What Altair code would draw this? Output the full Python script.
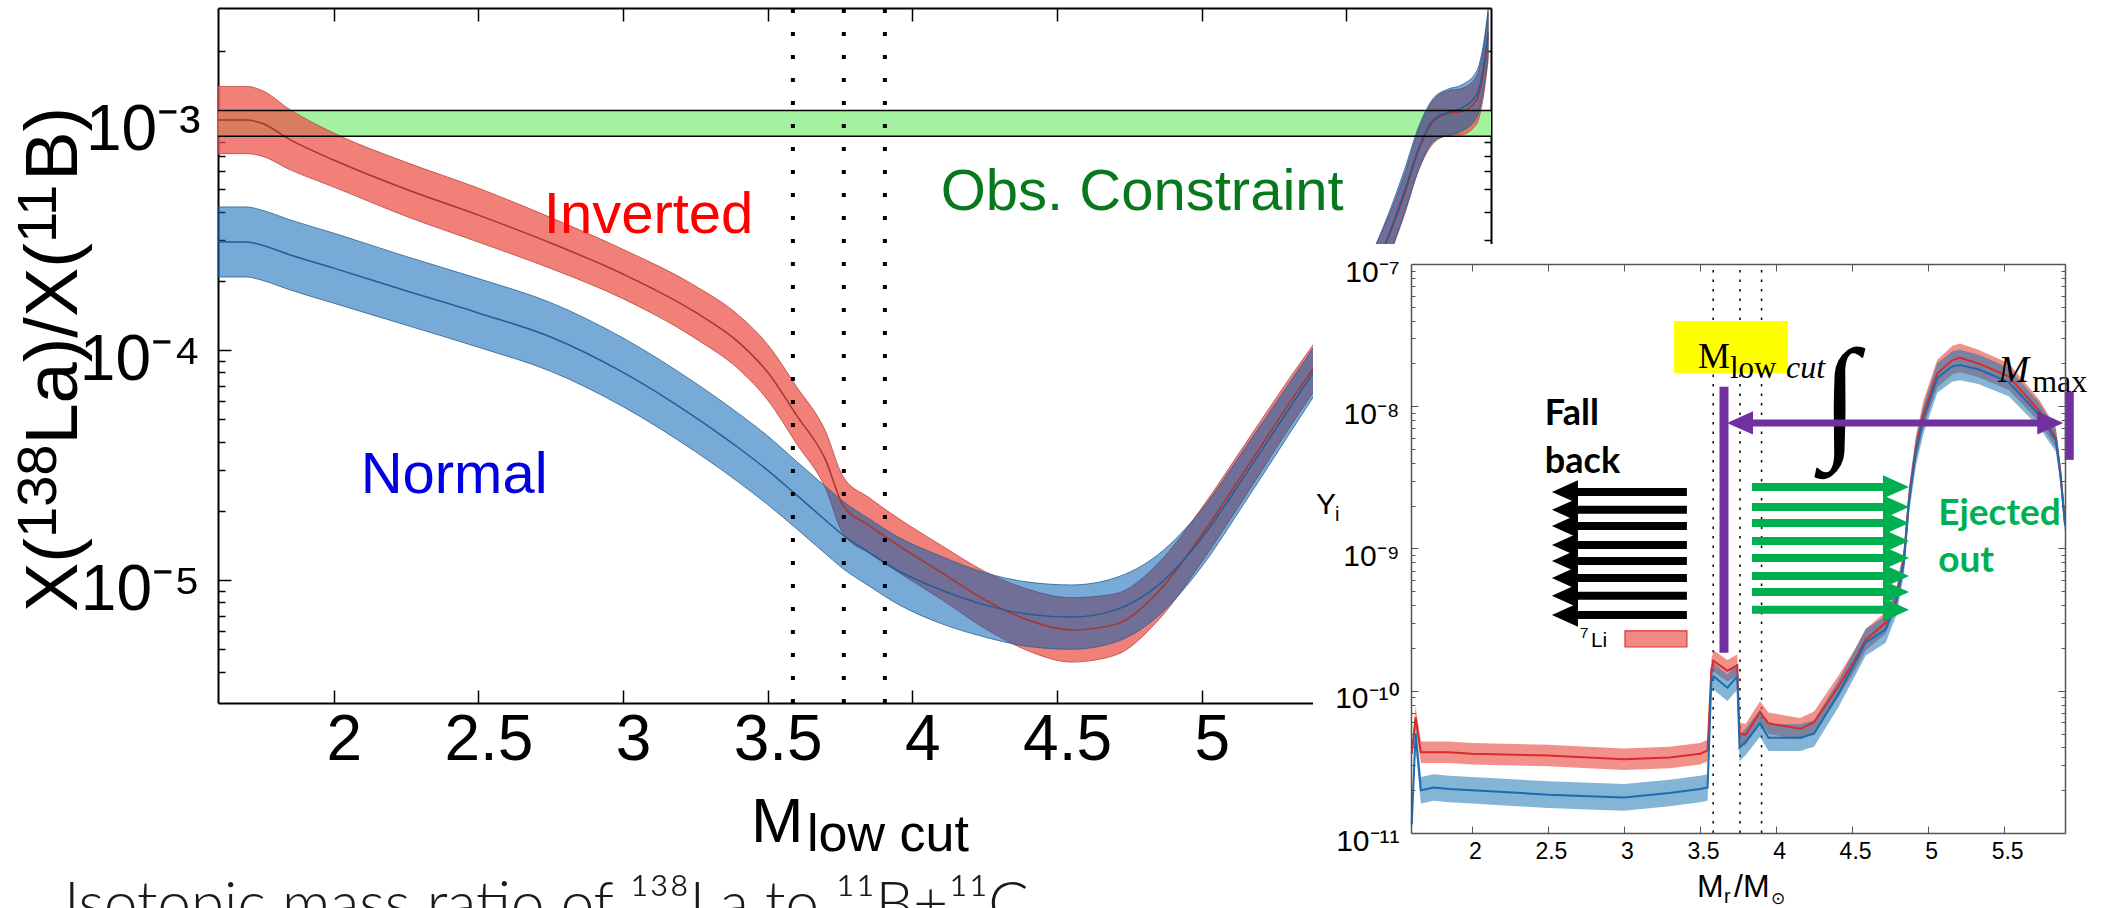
import altair as alt
import pandas as pd

W, H = 2104, 908
MX0, MX1, MY0, MY1 = 218, 1491, 8, 703      # main plot box (px)
IX0, IX1, IY0, IY1 = 1411, 2065, 264, 833   # inset plot box (px)

SANS = "Liberation Sans, Arial, sans-serif"
SERIF = "Liberation Serif, Times New Roman, serif"
CAL = "Lato, Carlito, sans-serif"

# ---------------- main panel values ----------------
M_XDOM = [1.6, 6.0]
M_YDOM = [2.92e-6, 3.07e-3]
m_x = [1.60, 1.70, 1.75, 1.85, 2.00, 2.25, 2.50, 2.75, 3.00, 3.25, 3.40, 3.50,
       3.60, 3.70, 3.76, 3.85, 3.95, 4.10, 4.25, 4.40, 4.55, 4.70, 4.85, 5.00,
       5.15, 5.30, 5.45, 5.60, 5.70, 5.75, 5.80, 5.85, 5.90, 5.95, 5.975, 5.99]
m_red = [1.0e-3, 1.0e-3, 9.7e-4, 8.2e-4, 6.7e-4, 5.0e-4, 3.86e-4, 2.92e-4, 2.14e-4,
         1.46e-4, 1.08e-4, 8.0e-5, 5.2e-5, 3.33e-5, 2.12e-5, 1.73e-5, 1.42e-5, 1.08e-5,
         8.2e-6, 6.7e-6, 6.07e-6, 6.4e-6, 8.9e-6, 1.57e-5, 3.0e-5, 5.8e-5, 1.1e-4,
         2.28e-4, 4.7e-4, 7.4e-4, 9.8e-4, 1.07e-3, 1.09e-3, 1.22e-3, 1.65e-3, 2.3e-3]
m_red_err = [1.40, 1.40, 1.39, 1.35, 1.31, 1.31, 1.31, 1.29, 1.28, 1.30, 1.31, 1.32,
             1.33, 1.33, 1.33, 1.32, 1.31, 1.31, 1.33, 1.36, 1.38, 1.36, 1.33, 1.31,
             1.30, 1.28, 1.26, 1.24, 1.22, 1.22, 1.24, 1.25, 1.26, 1.27, 1.27, 1.27]
m_blue = [2.95e-4, 2.95e-4, 2.86e-4, 2.59e-4, 2.27e-4, 1.81e-4, 1.45e-4, 1.14e-4, 8.0e-5,
          5.1e-5, 3.75e-5, 3.0e-5, 2.34e-5, 1.82e-5, 1.57e-5, 1.32e-5, 1.10e-5, 9.05e-6,
          7.8e-6, 7.1e-6, 6.9e-6, 7.4e-6, 9.5e-6, 1.52e-5, 2.86e-5, 5.5e-5, 1.07e-4,
          2.27e-4, 4.86e-4, 7.55e-4, 1.0e-3, 1.08e-3, 1.13e-3, 1.29e-3, 1.73e-3, 2.4e-3]
m_blue_err = [1.42, 1.42, 1.42, 1.42, 1.42, 1.41, 1.41, 1.41, 1.41, 1.41, 1.41, 1.41,
              1.40, 1.40, 1.40, 1.40, 1.40, 1.40, 1.38, 1.38, 1.38, 1.38, 1.36, 1.33,
              1.31, 1.29, 1.27, 1.25, 1.24, 1.24, 1.24, 1.26, 1.26, 1.26, 1.26, 1.26]
obs_range = [8.5e-4, 1.1e-3]
cut_lines = [3.587, 3.763, 3.905]
m_xticks = [2, 2.5, 3, 3.5, 4, 4.5, 5, 5.5]
m_ymajor = [1e-5, 1e-4, 1e-3]
m_ylabels = ["10⁻⁵", "10⁻⁴", "10⁻³"]
m_yticks = [4e-6, 5e-6, 6e-6, 7e-6, 8e-6, 9e-6,
            1e-5, 2e-5, 3e-5, 4e-5, 5e-5, 6e-5, 7e-5, 8e-5, 9e-5,
            1e-4, 2e-4, 3e-4, 4e-4, 5e-4, 6e-4, 7e-4, 8e-4, 9e-4,
            1e-3, 2e-3]

# ---------------- inset values (7Li) ----------------
I_XDOM = [1.6, 5.9]
I_YDOM = [1e-11, 1e-7]
i_x = [1.605, 1.63, 1.665, 1.75, 1.85, 2.0, 2.5, 3.0, 3.3, 3.5, 3.55, 3.575, 3.59,
       3.68, 3.745, 3.76, 3.80, 3.895, 3.95, 4.16, 4.25, 4.41, 4.52, 4.59, 4.72,
       4.79, 4.84, 4.875, 4.92, 4.97, 5.06, 5.16, 5.21, 5.33, 5.53, 5.73, 5.84, 5.87, 5.90]
i_red = [3.6e-11, 6.5e-11, 3.7e-11, 3.7e-11, 3.7e-11, 3.6e-11, 3.5e-11, 3.3e-11, 3.4e-11,
         3.6e-11, 3.8e-11, 1.41e-10, 1.62e-10, 1.38e-10, 1.51e-10, 5.0e-11, 4.9e-11,
         7.1e-11, 5.9e-11, 5.4e-11, 6.0e-11, 1.07e-10, 1.66e-10, 2.29e-10, 3.0e-10,
         4.4e-10, 8.3e-10, 2.3e-9, 5.1e-9, 8.9e-9, 1.70e-8, 2.11e-8, 2.19e-8, 2.0e-8,
         1.62e-8, 9.3e-9, 6.0e-9, 3.4e-9, 1.5e-9]
i_red_err = [1.05, 1.19, 1.19, 1.19, 1.19, 1.19, 1.19, 1.19, 1.19, 1.19, 1.19, 1.19, 1.19,
             1.19, 1.19, 1.19, 1.19, 1.19, 1.19, 1.19, 1.19, 1.19, 1.19, 1.19, 1.19,
             1.19, 1.19, 1.20, 1.22, 1.24, 1.25, 1.26, 1.26, 1.25, 1.24, 1.20, 1.18, 1.15, 1.12]
i_blue = [1.15e-11, 5.0e-11, 2.0e-11, 2.09e-11, 2.04e-11, 2.0e-11, 1.86e-11, 1.78e-11,
          1.91e-11, 2.04e-11, 2.09e-11, 1.2e-10, 1.26e-10, 1.05e-10, 1.26e-10, 3.98e-11,
          4.37e-11, 5.9e-11, 4.68e-11, 4.68e-11, 5.0e-11, 9.5e-11, 1.58e-10, 2.19e-10,
          2.69e-10, 4.17e-10, 7.9e-10, 2.19e-9, 4.8e-9, 8.1e-9, 1.58e-8, 1.91e-8, 1.95e-8,
          1.82e-8, 1.48e-8, 8.7e-9, 5.75e-9, 3.3e-9, 1.45e-9]
i_blue_err = [1.05, 1.24, 1.24, 1.24, 1.24, 1.24, 1.24, 1.24, 1.24, 1.24, 1.24, 1.24, 1.24,
              1.24, 1.24, 1.24, 1.24, 1.24, 1.24, 1.24, 1.24, 1.24, 1.24, 1.24, 1.24,
              1.24, 1.24, 1.24, 1.25, 1.26, 1.27, 1.28, 1.28, 1.27, 1.26, 1.22, 1.20, 1.16, 1.12]
i_xticks = [2, 2.5, 3, 3.5, 4, 4.5, 5, 5.5]
i_ymajor = [1e-11, 1e-10, 1e-9, 1e-8, 1e-7]
i_ylabels = ["10⁻¹¹", "10⁻¹⁰", "10⁻⁹", "10⁻⁸", "10⁻⁷"]
i_yticks = [1e-11, 2e-11, 3e-11, 4e-11, 5e-11, 6e-11, 7e-11, 8e-11, 9e-11,
            1e-10, 2e-10, 3e-10, 4e-10, 5e-10, 6e-10, 7e-10, 8e-10, 9e-10,
            1e-9, 2e-9, 3e-9, 4e-9, 5e-9, 6e-9, 7e-9, 8e-9, 9e-9,
            1e-8, 2e-8, 3e-8, 4e-8, 5e-8, 6e-8, 7e-8, 8e-8, 9e-8, 1e-7]
fall_rows = [2.50e-9, 1.87e-9, 1.44e-9, 1.06e-9, 8.18e-10, 6.21e-10, 4.65e-10, 3.41e-10]
eject_rows = [2.71e-9, 1.96e-9, 1.51e-9, 1.13e-9, 8.59e-10, 6.41e-10, 4.95e-10, 3.71e-10]


# ---------------- helpers ----------------
def lin(dom, r0, r1):
    return alt.Scale(domain=dom, range=[r0, r1], nice=False, zero=False)


def logs(dom, r0, r1):
    return alt.Scale(type="log", domain=dom, range=[r0, r1], nice=False)


def mx(f):
    return alt.X(f + ":Q", scale=lin(M_XDOM, MX0, MX1), axis=None)


def my(f):
    return alt.Y(f + ":Q", scale=logs(M_YDOM, MY1, MY0), axis=None)


def ix(f):
    return alt.X(f + ":Q", scale=lin(I_XDOM, IX0, IX1), axis=None)


def iy(f):
    return alt.Y(f + ":Q", scale=logs(I_YDOM, IY1, IY0), axis=None)


def txt(s, x, y, xe, ye, **mk):
    d = pd.DataFrame({"x": [x], "y": [y]})
    return alt.Chart(d).mark_text(text=s, **mk).encode(x=xe("x"), y=ye("y"))


def ptxt(s, px, py, **mk):
    return alt.Chart(pd.DataFrame({"a": [0]})).mark_text(text=s, **mk).encode(
        x=alt.value(px), y=alt.value(py))


def label_expr(vals, labels):
    e = "'" + labels[-1] + "'"
    for v, lab in reversed(list(zip(vals[:-1], labels[:-1]))):
        e = "datum.value < " + repr(v * 1.5) + " ? '" + lab + "' : " + e
    return e


MAJOR = "abs(log(datum.value)/LN10 - round(log(datum.value)/LN10)) < 0.01"


def axis_layer(vals, channel, scale, **kw):
    base = dict(title=None, grid=False, labelFlush=False, labelOverlap=False, values=vals)
    base.update(kw)
    ax = alt.Axis(**base)
    d = pd.DataFrame({"v": vals})
    if channel == "x":
        enc = {"x": alt.X("v:Q", scale=scale, axis=ax)}
    else:
        enc = {"y": alt.Y("v:Q", scale=scale, axis=ax)}
    return alt.Chart(d).mark_point(opacity=0).encode(**enc)


layers = []

# ================= main panel =================
mdf = pd.DataFrame({
    "x": m_x, "red": m_red, "blue": m_blue,
    "red_lo": [v / e for v, e in zip(m_red, m_red_err)],
    "red_hi": [v * e for v, e in zip(m_red, m_red_err)],
    "blue_lo": [v / e for v, e in zip(m_blue, m_blue_err)],
    "blue_hi": [v * e for v, e in zip(m_blue, m_blue_err)],
})

layers.append(alt.Chart(pd.DataFrame({"x": [M_XDOM[0]], "x2": [M_XDOM[1]],
                                      "y": [obs_range[0]], "y2": [obs_range[1]]}))
              .mark_rect(color="#A4F2A0")
              .encode(x=mx("x"), x2="x2:Q", y=my("y"), y2="y2:Q"))

layers.append(alt.Chart(mdf).mark_area(fill="#EB564B", fillOpacity=0.75, stroke="#B8453C",
                                       strokeWidth=1, strokeOpacity=0.8, interpolate="monotone")
              .encode(x=mx("x"), y=my("red_lo"), y2="red_hi:Q"))
layers.append(alt.Chart(mdf).mark_area(fill="#005EB3", fillOpacity=0.53, stroke="#2A5F8F",
                                       strokeWidth=1, strokeOpacity=0.8, interpolate="monotone")
              .encode(x=mx("x"), y=my("blue_lo"), y2="blue_hi:Q"))
layers.append(alt.Chart(mdf).mark_line(color="#A8362C", strokeWidth=1.5, interpolate="monotone")
              .encode(x=mx("x"), y=my("red")))
layers.append(alt.Chart(mdf).mark_line(color="#245E92", strokeWidth=1.5, interpolate="monotone")
              .encode(x=mx("x"), y=my("blue")))

layers.append(alt.Chart(pd.DataFrame({"x": [M_XDOM[0]] * 2, "x2": [M_XDOM[1]] * 2, "y": obs_range}))
              .mark_rule(color="black", strokeWidth=1.5)
              .encode(x=mx("x"), x2="x2:Q", y=my("y")))

layers.append(alt.Chart(pd.DataFrame({"x": cut_lines, "y": [M_YDOM[0]] * 3, "y2": [M_YDOM[1]] * 3}))
              .mark_rule(color="black", strokeWidth=4, strokeDash=[4, 19])
              .encode(x=mx("x"), y=my("y"), y2="y2:Q"))

layers.append(txt("Inverted", 2.726, 3.23e-4, mx, my, font=SANS, fontSize=58, color="#FF0000",
                  align="left", baseline="alphabetic"))
layers.append(txt("Obs. Constraint", 4.098, 4.06e-4, mx, my, font=SANS, fontSize=58,
                  color="#08781C", align="left", baseline="alphabetic"))
layers.append(txt("Normal", 2.093, 2.39e-5, mx, my, font=SANS, fontSize=58, color="#0000E0",
                  align="left", baseline="alphabetic"))

# main axes (drawn behind marks)
MXS = lin(M_XDOM, MX0, MX1)
MYS = logs(M_YDOM, MY1, MY0)
layers.append(axis_layer(m_xticks[:-1], "x", MXS, orient="bottom", offset=-(H - MY1), tickSize=0,
                         domain=False, labelFont=SANS, labelFontSize=64, labelColor="black",
                         labelPadding=5, labelOffset=10, format="~g", zindex=0))
layers.append(axis_layer(m_xticks, "x", MXS, orient="top", offset=-MY1, labels=False, tickSize=13,
                         tickWidth=1.5, tickColor="black", domainColor="black", domainWidth=2, zindex=0))
layers.append(axis_layer(m_xticks, "x", MXS, orient="bottom", offset=MY0 - H, labels=False,
                         tickSize=13, tickWidth=1.5, tickColor="black", domainColor="black",
                         domainWidth=2, zindex=0))
layers.append(axis_layer(m_ymajor, "y", MYS, orient="left", offset=-MX0, tickSize=0, domain=False,
                         labelFont=SANS, labelFontSize=64, labelColor="black", labelPadding=18,
                         labelBaseline="middle", labelOffset=10,
                         labelExpr=label_expr(m_ymajor, m_ylabels), zindex=0))
layers.append(axis_layer(m_yticks, "y", MYS, orient="right", offset=MX0 - W, labels=False,
                         tickSize={"condition": {"test": MAJOR, "value": 13}, "value": 7},
                         tickWidth=1.5, tickColor="black", domainColor="black", domainWidth=2,
                         zindex=0))
layers.append(axis_layer(m_yticks, "y", MYS, orient="left", offset=-MX1, labels=False,
                         tickSize={"condition": {"test": MAJOR, "value": 13}, "value": 7},
                         tickWidth=1.5, tickColor="black", domainColor="black", domainWidth=2,
                         zindex=0))

# white background of the inset
layers.append(alt.Chart(pd.DataFrame({"a": [0]})).mark_rect(color="white").encode(
    x=alt.value(1313), x2=alt.value(W), y=alt.value(244), y2=alt.value(H)))

# ================= inset =================
idf = pd.DataFrame({
    "x": i_x, "red": i_red, "blue": i_blue,
    "red_lo": [v / e for v, e in zip(i_red, i_red_err)],
    "red_hi": [v * e for v, e in zip(i_red, i_red_err)],
    "blue_lo": [v / e for v, e in zip(i_blue, i_blue_err)],
    "blue_hi": [v * e for v, e in zip(i_blue, i_blue_err)],
})
layers.append(alt.Chart(pd.DataFrame({"x": cut_lines, "y": [I_YDOM[0]] * 3, "y2": [I_YDOM[1]] * 3}))
              .mark_rule(color="black", strokeWidth=1.5, strokeDash=[2.5, 7])
              .encode(x=ix("x"), y=iy("y"), y2="y2:Q"))
layers.append(alt.Chart(idf).mark_area(fill="#EB564B", fillOpacity=0.65)
              .encode(x=ix("x"), y=iy("red_lo"), y2="red_hi:Q"))
layers.append(alt.Chart(idf).mark_area(fill="#1F77B4", fillOpacity=0.55)
              .encode(x=ix("x"), y=iy("blue_lo"), y2="blue_hi:Q"))
layers.append(alt.Chart(idf).mark_line(color="#D92B2B", strokeWidth=2).encode(x=ix("x"), y=iy("red")))
layers.append(alt.Chart(idf).mark_line(color="#1E6BB0", strokeWidth=2).encode(x=ix("x"), y=iy("blue")))

# M_low cut label with yellow box, integral, M_max
layers.append(alt.Chart(pd.DataFrame({"x": [3.329], "x2": [4.079], "y": [1.71e-8], "y2": [3.98e-8]}))
              .mark_rect(color="#FFFF00").encode(x=ix("x"), x2="x2:Q", y=iy("y"), y2="y2:Q"))
layers.append(txt("M", 3.487, 1.86e-8, ix, iy, font=SERIF, fontSize=36, color="black",
                  align="left", baseline="alphabetic"))
layers.append(txt("low", 3.697, 1.58e-8, ix, iy, font=SERIF, fontSize=31, color="black",
                  align="left", baseline="alphabetic"))
layers.append(txt("cut", 4.066, 1.58e-8, ix, iy, font=SERIF, fontSize=32, fontStyle="italic",
                  color="black", align="left", baseline="alphabetic"))
layers.append(txt("∫", 4.42, 1.07e-8, ix, iy, font=SERIF, fontSize=135, color="black",
                  align="center", baseline="middle"))
layers.append(txt("M", 5.461, 1.48e-8, ix, iy, font=SERIF, fontSize=37, fontStyle="italic",
                  color="black", align="left", baseline="alphabetic"))
layers.append(txt("max", 5.684, 1.26e-8, ix, iy, font=SERIF, fontSize=32, color="black",
                  align="left", baseline="alphabetic"))

# purple markers
PURPLE = "#7030A0"
layers.append(alt.Chart(pd.DataFrame({"x": [3.658, 5.928], "y": [1.85e-10, 4.2e-9],
                                      "y2": [1.37e-8, 1.26e-8]}))
              .mark_rule(color=PURPLE, strokeWidth=9).encode(x=ix("x"), y=iy("y"), y2="y2:Q"))
layers.append(alt.Chart(pd.DataFrame({"x": [3.77], "x2": [5.80], "y": [7.64e-9]}))
              .mark_rule(color=PURPLE, strokeWidth=7).encode(x=ix("x"), x2="x2:Q", y=iy("y")))
LEFT_HEAD = "M -1 0 L 1 -0.9 L 1 0.9 Z"
RIGHT_HEAD = "M 1 0 L -1 -0.9 L -1 0.9 Z"
layers.append(alt.Chart(pd.DataFrame({"x": [3.763], "y": [7.64e-9]}))
              .mark_point(shape=LEFT_HEAD, size=676, filled=True, color=PURPLE, opacity=1)
              .encode(x=ix("x"), y=iy("y")))
layers.append(alt.Chart(pd.DataFrame({"x": [5.803], "y": [7.64e-9]}))
              .mark_point(shape=RIGHT_HEAD, size=676, filled=True, color=PURPLE, opacity=1)
              .encode(x=ix("x"), y=iy("y")))

# fall-back (black) and ejected (green) arrows
fdf = pd.DataFrame({"x": [2.612] * 8, "x2": [3.414] * 8, "y": fall_rows})
layers.append(alt.Chart(fdf).mark_rule(color="black", strokeWidth=8)
              .encode(x=ix("x"), x2="x2:Q", y=iy("y")))
layers.append(alt.Chart(fdf).mark_point(shape=LEFT_HEAD, size=676, filled=True, color="black",
                                        opacity=1).encode(x=ix("x"), y=iy("y")))
edf = pd.DataFrame({"x": [3.842] * 8, "x2": [4.789] * 8, "y": eject_rows})
layers.append(alt.Chart(edf).mark_rule(color="#00B050", strokeWidth=8)
              .encode(x=ix("x"), x2="x2:Q", y=iy("y")))
layers.append(alt.Chart(edf).mark_point(shape=RIGHT_HEAD, size=676, filled=True, color="#00B050",
                                        opacity=1).encode(x=ix("x2"), y=iy("y")))

layers.append(txt("Fall", 2.48, 7.4e-9, ix, iy, font=CAL, fontSize=36, fontWeight="bold",
                  color="black", align="left", baseline="alphabetic"))
layers.append(txt("back", 2.48, 3.4e-9, ix, iy, font=CAL, fontSize=36, fontWeight="bold",
                  color="black", align="left", baseline="alphabetic"))
layers.append(txt("Ejected", 5.066, 1.47e-9, ix, iy, font=CAL, fontSize=37, fontWeight="bold",
                  color="#00B050", align="left", baseline="alphabetic"))
layers.append(txt("out", 5.066, 6.85e-10, ix, iy, font=CAL, fontSize=37, fontWeight="bold",
                  color="#00B050", align="left", baseline="alphabetic"))

# legend 7Li
layers.append(txt("7", 2.711, 2.35e-10, ix, iy, font=SANS, fontSize=15, color="black",
                  align="left", baseline="alphabetic"))
layers.append(txt("Li", 2.783, 2.03e-10, ix, iy, font=SANS, fontSize=21, color="black",
                  align="left", baseline="alphabetic"))
layers.append(alt.Chart(pd.DataFrame({"x": [3.007], "x2": [3.414], "y": [2.03e-10], "y2": [2.64e-10]}))
              .mark_rect(fill="#F08A84", stroke="#E03030", strokeWidth=1.2)
              .encode(x=ix("x"), x2="x2:Q", y=iy("y"), y2="y2:Q"))

# inset axes (drawn on top)
IXS = lin(I_XDOM, IX0, IX1)
IYS = logs(I_YDOM, IY1, IY0)
GREY = "#555555"
layers.append(axis_layer(i_xticks, "x", IXS, orient="bottom", offset=IY1 - H, tickSize=0, domain=False,
                         labelFont=SANS, labelFontSize=23, labelColor="black", labelPadding=7,
                         labelOffset=3, format="~g", zindex=1))
layers.append(axis_layer(i_xticks, "x", IXS, orient="top", offset=-IY1, labels=False, tickSize=7,
                         tickWidth=1, tickColor=GREY, domainColor=GREY, domainWidth=1.5, zindex=1))
layers.append(axis_layer(i_xticks, "x", IXS, orient="bottom", offset=IY0 - H, labels=False, tickSize=7,
                         tickWidth=1, tickColor=GREY, domainColor=GREY, domainWidth=1.5, zindex=1))
layers.append(axis_layer(i_ymajor, "y", IYS, orient="left", offset=-IX0, tickSize=0, domain=False,
                         labelFont=SANS, labelFontSize=30, labelColor="black", labelPadding=12,
                         labelBaseline="middle", labelOffset=8,
                         labelExpr=label_expr(i_ymajor, i_ylabels), zindex=1))
layers.append(axis_layer(i_yticks, "y", IYS, orient="right", offset=IX0 - W, labels=False,
                         tickSize={"condition": {"test": MAJOR, "value": 7}, "value": 4},
                         tickWidth=1, tickColor=GREY, domainColor=GREY, domainWidth=1.5, zindex=1))
layers.append(axis_layer(i_yticks, "y", IYS, orient="left", offset=-IX1, labels=False,
                         tickSize={"condition": {"test": MAJOR, "value": 7}, "value": 4},
                         tickWidth=1, tickColor=GREY, domainColor=GREY, domainWidth=1.5, zindex=1))

# ================= titles =================
# rotated y title built from pieces so that the superscripts are large
YT_F, YT_S = 74, 56
yt_pieces = [("X(", YT_F, 77, 612), ("138", YT_S, 56, 538), ("La)/X(", YT_F, 77, 444.6),
             ("11", YT_S, 56, 243.1), ("B)", YT_F, 77, 180.8)]
for s, fs, px, py in yt_pieces:
    layers.append(ptxt(s, px, py, font=SANS, fontSize=fs, angle=270, align="left",
                       baseline="alphabetic", color="black"))

layers.append(ptxt("M", 751, 842, font=SANS, fontSize=63, align="left", baseline="alphabetic",
                   color="black"))
layers.append(ptxt("low cut", 807, 851, font=SANS, fontSize=52, align="left",
                   baseline="alphabetic", color="black"))
layers.append(ptxt("Y", 1316, 514, font=SANS, fontSize=30, align="left", baseline="alphabetic",
                   color="black"))
layers.append(ptxt("i", 1335, 521, font=SANS, fontSize=20, align="left", baseline="alphabetic",
                   color="black"))
layers.append(ptxt("M", 1697, 897, font=SANS, fontSize=32, align="left", baseline="alphabetic",
                   color="black"))
layers.append(ptxt("r", 1724, 903, font=SANS, fontSize=20, align="left", baseline="alphabetic",
                   color="black"))
layers.append(ptxt("/M", 1734, 897, font=SANS, fontSize=32, align="left", baseline="alphabetic",
                   color="black"))
layers.append(ptxt("⊙", 1771, 904, font="DejaVu Sans", fontSize=17, align="left",
                   baseline="alphabetic", color="black"))
layers.append(ptxt("Isotopic mass ratio of ¹³⁸La to ¹¹B+¹¹C", 64, 924, font=CAL, fontSize=60,
                   fontWeight=300, align="left", baseline="alphabetic", color="#1A1A1A"))

chart = (alt.layer(*layers)
         .resolve_scale(x="independent", y="independent")
         .properties(width=W, height=H, padding=0, background="white",
                     autosize=alt.AutoSizeParams(type="none"))
         .configure_view(strokeWidth=0))

chart.save("out.html", embed_options={"renderer": "svg", "actions": False})
